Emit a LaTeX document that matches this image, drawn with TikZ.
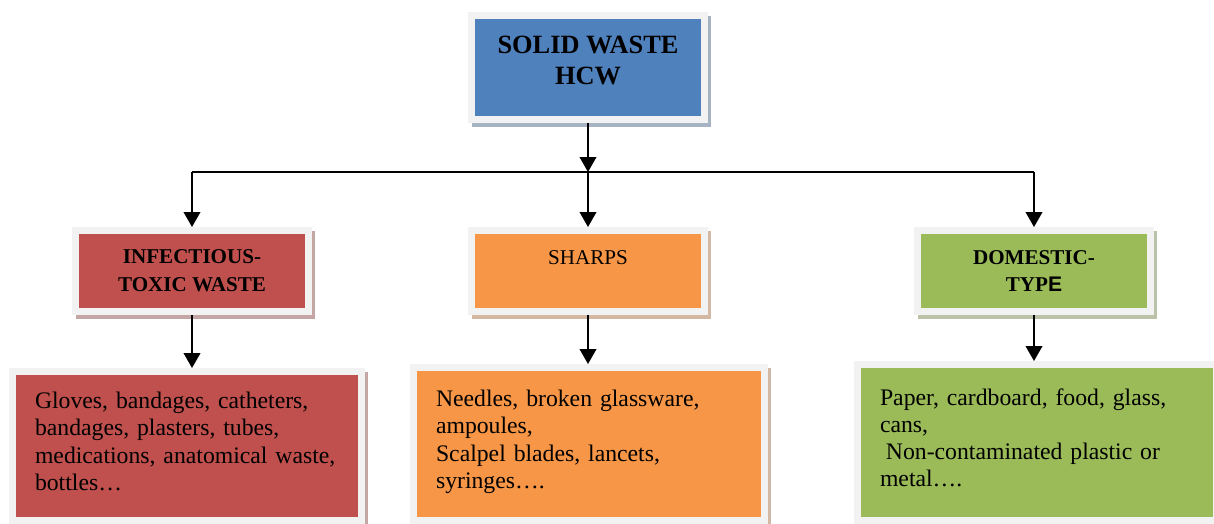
\documentclass[tikz,border=0pt]{standalone}
\usepackage{fontspec}
\setmainfont{Liberation Serif}
\newfontfamily\hcwsans{Liberation Sans}
\usetikzlibrary{arrows.meta}
\definecolor{hcwBlue}{RGB}{79,129,189}
\definecolor{hcwRed}{RGB}{192,80,77}
\definecolor{hcwOrange}{RGB}{247,150,70}
\definecolor{hcwGreen}{RGB}{155,187,89}
\definecolor{hcwFrame}{RGB}{242,242,242}

\begin{document}
\begin{tikzpicture}[
    x=0.02cm,y=-0.02cm,
    box/.style={draw=hcwFrame,line width=0.14cm,fill=#1,
      preaction={draw=#1!45!gray!60,fill=#1!45!gray!60,transform canvas={shift={(0.07cm,-0.08cm)}}}},
    head/.style={box=#1,minimum width=4.66cm,minimum height=1.62cm,align=center,font=\fontsize{12}{15.9}\selectfont},
    list/.style={box=#1,align=left,font=\fontsize{13.5}{15.4}\selectfont},
    arrow/.style={-{Triangle[length=8.5pt,width=9.5pt]},line width=0.8pt}
  ]
    \useasboundingbox (0,0) rectangle (1214,524);
    % top
    \node[box=hcwBlue,minimum width=4.66cm,minimum height=2.08cm,align=center,
      font=\fontsize{15}{17.6}\selectfont\bfseries] (solid) at (588,67.5) {SOLID WASTE\\HCW\\[-9pt]\mbox{}};
    % categories
    \node[head=hcwRed] (infect) at (192,271) {\bfseries INFECTIOUS-\\\bfseries TOXIC WASTE};
    \node[head=hcwOrange] (sharps) at (588,271) {SHARPS\\\mbox{}};
    \node[head=hcwGreen] (domestic) at (1034,271) {\bfseries DOMESTIC-\\\bfseries TYP{\hcwsans E}};
    % examples
    \node[list=hcwRed,minimum width=6.98cm,minimum height=2.98cm,text width=6.08cm] (gloves) at (187,446)
      {Gloves, bandages, catheters,\\bandages, plasters, tubes,\\medications, anatomical waste,\\bottles…\\[-10pt]\mbox{}};
    \node[list=hcwOrange,minimum width=7.02cm,minimum height=3.06cm,text width=6.12cm] (needles) at (589,444)
      {Needles, broken glassware,\\ampoules,\\Scalpel blades, lancets,\\syringes….\\[-10pt]\mbox{}};
    \node[list=hcwGreen,minimum width=7.18cm,minimum height=3.12cm,text width=6.28cm] (paper) at (1037,442.5)
      {Paper, cardboard, food, glass,\\cans,\\\hspace{0.25em}Non-contaminated plastic or\\metal….\\[-10pt]\mbox{}};
    % connectors
    \coordinate (split) at (588,172);
    \draw[arrow] (solid) -- (split);
    \draw[line width=0.8pt] (infect.north |- split) -- (domestic.north |- split);
    \draw[arrow] (split) -- (sharps);
    \draw[arrow] (infect.north |- split) -- (infect);
    \draw[arrow] (domestic.north |- split) -- (domestic);
    \draw[arrow] (infect) -- (infect |- gloves.north);
    \draw[arrow] (sharps) -- (sharps |- needles.north);
    \draw[arrow] (domestic) -- (domestic |- paper.north);
  \end{tikzpicture}
\end{document}
